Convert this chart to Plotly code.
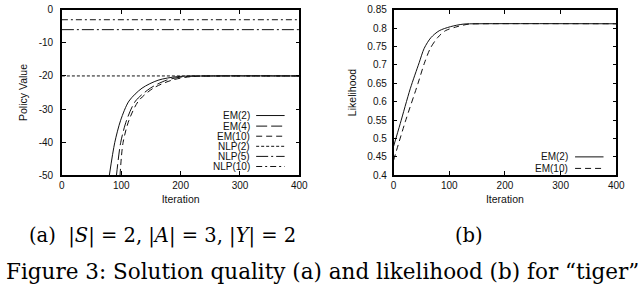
import plotly.graph_objects as go

# ---------------- data ----------------
# (a) Policy value vs iteration
em2_iter = [80, 89, 99, 113, 135, 162, 195, 250, 400]
em2_val = [-50, -40.2, -33.4, -27.6, -23.7, -21.3, -20.2, -20.0, -20.0]
em4_iter = [92, 99, 109, 124, 149, 176, 206, 260, 400]
em4_val = [-50, -40.2, -33.4, -27.6, -23.7, -21.3, -20.2, -20.0, -20.0]
em10_iter = [98, 103, 113, 129, 154, 185, 218, 280, 400]
em10_val = [-50, -40.2, -33.4, -27.6, -23.7, -21.3, -20.2, -20.0, -20.0]
nlp_iter = [0, 400]
nlp2_val = [-20, -20]
nlp5_val = [-6, -6]
nlp10_val = [-3, -3]

# (b) Likelihood vs iteration
lk2_iter = [0, 12, 30, 46, 55, 67, 82, 102, 125, 150, 400]
lk2_val = [0.478, 0.54, 0.635, 0.706, 0.745, 0.774, 0.793, 0.804, 0.811, 0.812, 0.812]
lk10_iter = [0, 21, 44, 55, 66, 79, 93, 114, 135, 160, 400]
lk10_val = [0.44, 0.545, 0.65, 0.703, 0.745, 0.774, 0.793, 0.804, 0.811, 0.812, 0.812]

x_ticks = [0, 100, 200, 300, 400]
a_yticks = [-50, -40, -30, -20, -10, 0]
a_ytick_text = ["-50", "-40", "-30", "-20", "-10", "0"]
b_yticks = [0.4, 0.45, 0.5, 0.55, 0.6, 0.65, 0.7, 0.75, 0.8, 0.85]
b_ytick_text = ["0.4", "0.45", "0.5", "0.55", "0.6", "0.65", "0.7", "0.75", "0.8", "0.85"]

a_names = ["EM(2)", "EM(4)", "EM(10)", "NLP(2)", "NLP(5)", "NLP(10)"]
b_names = ["EM(2)", "EM(10)"]

# ---------------- styling ----------------
W, H = 640, 284
FONT = "Liberation Sans"
SERIF = "DejaVu Serif"
INK = "#111111"

dash_styles = {
    "EM(2)": "solid",
    "EM(4)": "11px,4px",
    "EM(10)": "6px,4px",
    "NLP(2)": "3px,2px",
    "NLP(5)": "12px,3px,2px,3px",
    "NLP(10)": "6px,3px,2px,3px",
}

# pixel layout
ax_l = (60, 302)
ax_r = (398, 625)
ax_y = (5, 177)


def px_x(p):
    return p / W


def px_y(p):
    return 1 - p / H


fig = go.Figure()


def add_line(x, y, name, xa, ya, spline=True):
    fig.add_trace(go.Scatter(
        x=x, y=y, mode="lines", name=name, showlegend=False,
        xaxis=xa, yaxis=ya,
        line=dict(color=INK, width=1, dash=dash_styles[name],
                  shape="spline" if spline else "linear", smoothing=0.8),
        hoverinfo="skip",
    ))


add_line(nlp_iter, nlp2_val, "NLP(2)", "x", "y", False)
add_line(nlp_iter, nlp5_val, "NLP(5)", "x", "y", False)
add_line(nlp_iter, nlp10_val, "NLP(10)", "x", "y", False)
add_line(em10_iter, em10_val, "EM(10)", "x", "y")
add_line(em4_iter, em4_val, "EM(4)", "x", "y")
add_line(em2_iter, em2_val, "EM(2)", "x", "y")

add_line(lk10_iter, lk10_val, "EM(10)", "x2", "y2")
add_line(lk2_iter, lk2_val, "EM(2)", "x2", "y2")

axis_common = dict(
    showline=True, linecolor="black", linewidth=1.5, mirror="ticks",
    ticks="inside", ticklen=4, tickwidth=1, tickcolor="black",
    showgrid=False, zeroline=False, ticklabeloverflow="allow",
    tickfont=dict(family=FONT, size=10, color=INK),
)
title_font = dict(family=FONT, size=10.5, color=INK)

fig.update_layout(
    width=W, height=H,
    margin=dict(l=0, r=0, t=0, b=0),
    paper_bgcolor="white", plot_bgcolor="white",
    showlegend=False,
    xaxis=dict(domain=[px_x(ax_l[0]), px_x(ax_l[1])], range=[0, 400],
               tickvals=x_ticks, anchor="y",
               title=dict(text="Iteration", font=title_font, standoff=6),
               **axis_common),
    yaxis=dict(domain=[px_y(ax_y[1]), px_y(ax_y[0])], range=[-50, 0],
               tickvals=a_yticks, ticktext=a_ytick_text, anchor="x", ticklabelstandoff=5,
               title=dict(text="Policy Value", font=title_font, standoff=9),
               **axis_common),
    xaxis2=dict(domain=[px_x(ax_r[0]), px_x(ax_r[1])], range=[0, 400],
                tickvals=x_ticks, anchor="y2",
                title=dict(text="Iteration", font=title_font, standoff=6),
                **axis_common),
    yaxis2=dict(domain=[px_y(ax_y[1]), px_y(ax_y[0])], range=[0.4, 0.85],
                tickvals=b_yticks, ticktext=b_ytick_text, anchor="x2", ticklabelstandoff=3,
                title=dict(text="Likelihood", font=title_font, standoff=9),
                **axis_common),
)

# ---------------- custom legends (sample to the right of label) ----------------
def add_legend(names, xd, yd, text_right, s0, s1, y_rows):
    for name, yr in zip(names, y_rows):
        fig.add_annotation(
            xref=xd + " domain", yref=yd + " domain",
            x=text_right, y=yr, xanchor="right", yanchor="middle",
            text=name, showarrow=False,
            font=dict(family=FONT, size=10, color=INK),
        )
        fig.add_shape(
            type="line", xref=xd + " domain", yref=yd + " domain",
            x0=s0, x1=s1, y0=yr, y1=yr,
            line=dict(color=INK, width=1, dash=dash_styles[name]),
        )


a_rows_px = [115, 126, 136.5, 147, 157.5, 168]
add_legend(a_names, "x", "y",
           (254 - ax_l[0]) / (ax_l[1] - ax_l[0]),
           (258 - ax_l[0]) / (ax_l[1] - ax_l[0]),
           (287 - ax_l[0]) / (ax_l[1] - ax_l[0]),
           [(ax_y[1] - p) / (ax_y[1] - ax_y[0]) for p in a_rows_px])

b_rows_px = [158, 170]
add_legend(b_names, "x2", "y2",
           (578 - ax_r[0]) / (ax_r[1] - ax_r[0]),
           (583 - ax_r[0]) / (ax_r[1] - ax_r[0]),
           (612 - ax_r[0]) / (ax_r[1] - ax_r[0]),
           [(ax_y[1] - p) / (ax_y[1] - ax_y[0]) for p in b_rows_px])

# ---------------- captions ----------------
fig.add_annotation(
    xref="paper", yref="paper", x=px_x(24), y=px_y(240),
    xanchor="left", yanchor="middle", showarrow=False,
    text="(a)  |<i>S</i>| = 2, |<i>A</i>| = 3, |<i>Y</i>| = 2",
    font=dict(family=SERIF, size=19.5, color="black"),
)
fig.add_annotation(
    xref="paper", yref="paper", x=px_x(475), y=px_y(240),
    xanchor="center", yanchor="middle", showarrow=False,
    text="(b)", font=dict(family=SERIF, size=19.5, color="black"),
)
fig.add_annotation(
    xref="paper", yref="paper", x=px_x(1), y=px_y(277),
    xanchor="left", yanchor="middle", showarrow=False,
    text="Figure 3: Solution quality (a) and likelihood (b) for \u201ctiger\u201d",
    font=dict(family=SERIF, size=21.5, color="black"),
)

# remove the default page margin so the figure sits at the window's top-left
fig.write_html("out.html", config={"displayModeBar": False},
               post_script="document.body.style.margin='0';")
